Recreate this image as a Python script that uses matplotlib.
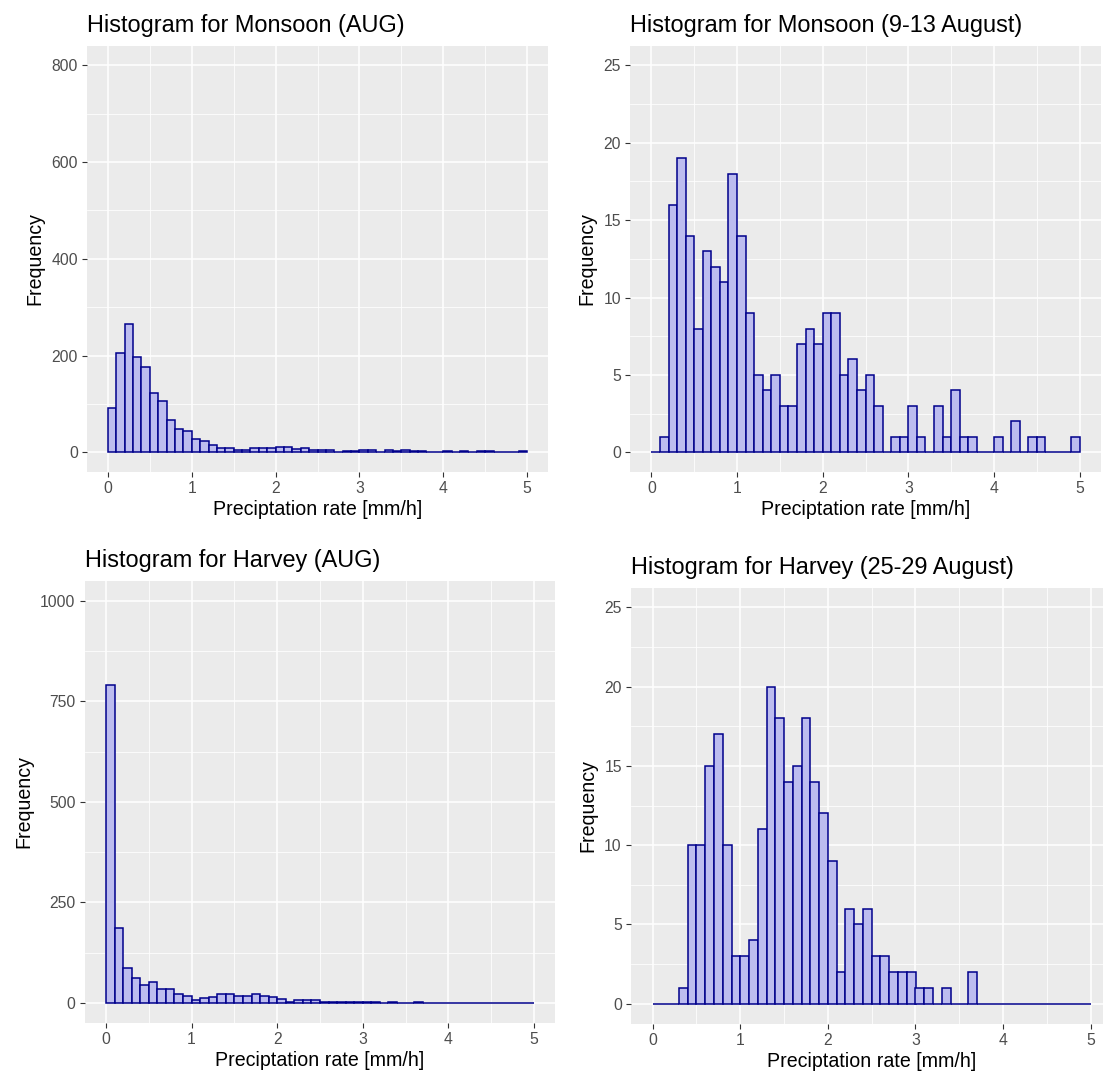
import numpy as np
import matplotlib
matplotlib.use("Agg")
import matplotlib.pyplot as plt
from matplotlib.ticker import MultipleLocator

plt.rcParams.update({"font.family": ["Liberation Sans", "DejaVu Sans"]})

# counts per 0.1 mm/h bin, 0..5
monsoon_aug = [92, 205, 265, 197, 176, 122, 105, 67, 49, 43,
               27, 24, 16, 8, 8, 5, 5, 8, 8, 8,
               10, 10, 6, 8, 5, 4, 4, 1, 2, 2,
               5, 4, 0, 5, 2, 5, 2, 2, 0, 0,
               2, 0, 2, 0, 2, 2, 0, 0, 0, 2]
monsoon_event = [0, 1, 16, 19, 14, 8, 13, 12, 11, 18,
                 14, 9, 5, 4, 5, 3, 3, 7, 8, 7,
                 9, 9, 5, 6, 4, 5, 3, 0, 1, 1,
                 3, 1, 0, 3, 1, 4, 1, 1, 0, 0,
                 1, 0, 2, 0, 1, 1, 0, 0, 0, 1]
harvey_aug = [790, 187, 86, 62, 44, 51, 34, 34, 21, 17,
              7, 11, 14, 21, 21, 17, 17, 21, 17, 14,
              10, 3, 7, 6, 6, 3, 3, 3, 3, 3,
              3, 2, 0, 3, 0, 0, 3, 0, 0, 0,
              0, 0, 0, 0, 0, 0, 0, 0, 0, 0]
harvey_event = [0, 0, 0, 1, 10, 10, 15, 17, 10, 3,
                3, 4, 11, 20, 18, 14, 15, 18, 14, 12,
                9, 2, 6, 5, 6, 3, 3, 2, 2, 2,
                1, 1, 0, 1, 0, 0, 2, 0, 0, 0,
                0, 0, 0, 0, 0, 0, 0, 0, 0, 0]

titles = ["Histogram for Monsoon (AUG)", "Histogram for Monsoon (9-13 August)",
          "Histogram for Harvey (AUG)", "Histogram for Harvey (25-29 August)"]
xlabel = "Preciptation rate [mm/h]"
ylabel = "Frequency"

BINW = 0.1
W, H = 1103, 1076


def panel(fig, box, counts, title, ystep, ymax):
    x0, x1, y0, y1 = box
    ax = fig.add_axes([x0 / W, 1 - y1 / H, (x1 - x0) / W, (y1 - y0) / H])
    ax.set_facecolor("#EBEBEB")
    left = np.arange(len(counts)) * BINW
    ax.bar(left, counts, width=BINW, align="edge", color="#BCBCEF",
           edgecolor="#00008B", linewidth=1.1, zorder=3)
    ax.set_xlim(-0.25, 5.25)
    ax.set_ylim(-ymax * 0.05, ymax * 1.05)
    ax.xaxis.set_major_locator(MultipleLocator(1))
    ax.xaxis.set_minor_locator(MultipleLocator(0.5))
    ax.yaxis.set_major_locator(MultipleLocator(ystep))
    ax.yaxis.set_minor_locator(MultipleLocator(ystep / 2))
    ax.grid(which="major", color="white", lw=1.1, zorder=0)
    ax.grid(which="minor", color="white", lw=0.55, zorder=0)
    ax.set_axisbelow(True)
    for s in ax.spines.values():
        s.set_visible(False)
    ax.tick_params(which="major", length=3.5, width=0.8, color="#333333",
                   labelsize=11.3, labelcolor="#4D4D4D", pad=3)
    ax.tick_params(which="minor", length=0)
    ax.set_title(title, loc="left", fontsize=16.9, pad=10)
    ax.set_xlabel(xlabel, fontsize=14.1, labelpad=3)
    ax.set_ylabel(ylabel, fontsize=14.1, labelpad=5)
    return ax


fig = plt.figure(figsize=(W / 100, H / 100), dpi=100)
panel(fig, (87, 548, 46, 471.6), monsoon_aug, titles[0], 200, 800)
panel(fig, (630, 1101, 46, 471.7), monsoon_event, titles[1], 5, 25)
panel(fig, (84.6, 555.4, 581, 1022.8), harvey_aug, titles[2], 250, 1000)
panel(fig, (630.8, 1112.6, 587.6, 1023.5), harvey_event, titles[3], 5, 25)

fig.savefig("out.png", dpi=100)
